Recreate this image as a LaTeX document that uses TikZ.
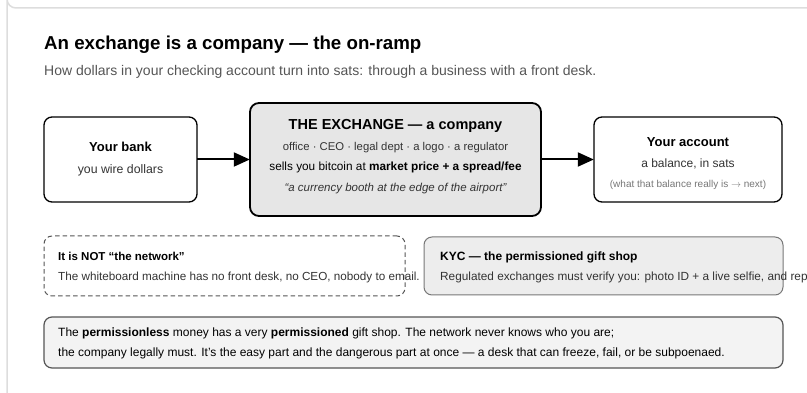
\documentclass[tikz,border=0pt]{standalone}
\usepackage{fontspec}
\setmainfont{Liberation Sans}
\usetikzlibrary{arrows.meta}
\definecolor{framec}{HTML}{DDDDDD}
\definecolor{txtc}{HTML}{333333}
\definecolor{subc}{HTML}{555555}
\definecolor{mutedc}{HTML}{777777}
\definecolor{exfill}{HTML}{E6E6E6}
\definecolor{kycfill}{HTML}{EDEDED}
\definecolor{notefill}{HTML}{F3F3F3}
\definecolor{kycline}{HTML}{777777}
\tikzset{
  card/.style={draw=black, line width=1.3pt, rounded corners=8pt, fill=white},
  excard/.style={draw=black, line width=1.8pt, rounded corners=9pt, fill=exfill},
  dashcard/.style={draw=subc, line width=1pt, dash pattern=on 4.5pt off 3pt, rounded corners=8pt},
  kyccard/.style={draw=kycline, line width=1pt, rounded corners=8pt, fill=kycfill},
  notecard/.style={draw=subc, line width=1.2pt, rounded corners=8pt, fill=notefill},
  arr/.style={line width=2pt, -{Triangle[length=16pt,width=14pt]}},
  lbl/.style={inner sep=0pt, anchor=base},
  lblw/.style={inner sep=0pt, anchor=base west},
}
\newcommand{\fs}[1]{\fontsize{#1}{#1}\selectfont}
\begin{document}
\begin{tikzpicture}[x=1pt,y=-1pt]
\useasboundingbox (0,0) rectangle (807,393);
\clip (0,0) rectangle (807,393);
% outer card
\draw[framec, line width=1.5pt] (808,8) -- (16,8) arc[start angle=90, end angle=180, radius=9] -- (7,394);
% title
\node[lblw] (title) at (44,50) {\fs{18.7}\bfseries An exchange is a company — the on-ramp};
\node[lblw, text=subc] (sub) at (44,76) {\fs{14}How dollars in your checking account turn into sats: through a business with a front desk.};
% top row
\path[card] (44,117) rectangle (197,202);
\node[inner sep=0pt, minimum width=153pt, minimum height=85pt] (bank) at (120.5,159.5) {};
\node[lbl] (bankt) at (120.5,152) {\fs{13}\bfseries Your bank};
\node[lbl, text=txtc] (bankd) at (120.5,174) {\fs{12.3}you wire dollars};
\path[excard] (250,103) rectangle (541,216);
\node[inner sep=0pt, minimum width=291pt, minimum height=113pt] (exch) at (395.5,159.5) {};
\node[lbl] (ext) at (395.5,129.5) {\fs{14.5}\bfseries THE EXCHANGE — a company};
\node[lbl, text=txtc] (ex1) at (395.5,151) {\fs{11.3}office · CEO · legal dept · a logo · a regulator};
\node[lbl] (ex2) at (395.5,171) {\fs{11.8}sells you bitcoin at \textbf{market price + a spread/fee}};
\node[lbl, text=txtc] (ex3) at (395.5,192) {\fs{11.5}\itshape “a currency booth at the edge of the airport”};
\path[card] (594,117) rectangle (782,202);
\node[inner sep=0pt, minimum width=188pt, minimum height=85pt] (acct) at (688,159.5) {};
\node[lbl] (acctt) at (688,147) {\fs{13}\bfseries Your account};
\node[lbl, text=txtc] (acct1) at (688,168) {\fs{12}a balance, in sats};
\node[lbl, text=mutedc] (acct2) at (688,188) {\fs{10}(what that balance really is \raisebox{0.4pt}{$\rightarrow$} next)};
\draw[arr] (bank.east) -- (exch.west);
\draw[arr] (exch.east) -- (acct.west);
% middle row
\node[dashcard, minimum width=361pt, minimum height=60pt, inner sep=0pt] (notnet) at (224.5,266) {};
\node[lblw] (nott) at (58,261) {\fs{11.5}\bfseries It is NOT “the network”};
\node[lblw, text=txtc] (notd) at (58,280) {\fs{11.7}The whiteboard machine has no front desk, no CEO, nobody to email.};
\node[kyccard, minimum width=359pt, minimum height=58pt, inner sep=0pt] (kyc) at (603.5,266) {};
\node[lblw] (kyct) at (440,261) {\fs{12}\bfseries KYC — the permissioned gift shop};
\node[lblw, text=txtc] (kycd) at (440,280) {\fs{11.8}Regulated exchanges must verify you: photo ID + a live selfie, and repo};
% bottom note
\node[notecard, minimum width=739pt, minimum height=51pt, inner sep=0pt] (note) at (413.5,342.5) {};
\node[lblw] (n1) at (58,337) {\fs{12}The \textbf{permissionless} money has a very \textbf{permissioned} gift shop. The network never knows who you are;};
\node[lblw] (n2) at (58,356) {\fs{12}the company legally must. It's the easy part and the dangerous part at once — a desk that can freeze, fail, or be subpoenaed.};
\end{tikzpicture}
\end{document}
